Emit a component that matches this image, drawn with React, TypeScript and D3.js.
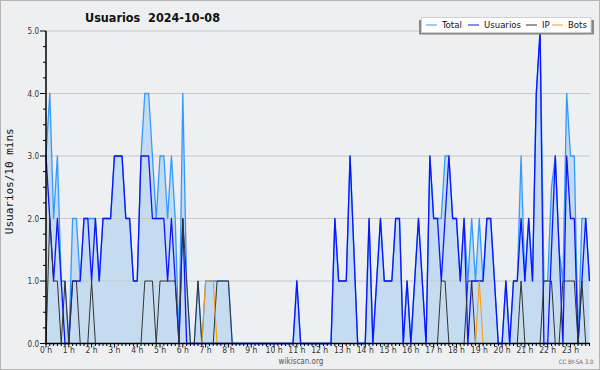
import React from "react";
import * as d3 from "d3";

const W = 600;
const H = 370;
const plot = { left: 46, right: 589.5, top: 31, bottom: 343.5 };
const FONT = "'DejaVu Sans Condensed', 'DejaVu Sans', sans-serif";

// one value every 10 minutes, 00:00 -> 23:50
const usuarios = [
  3, 2, 1, 2, 1, 0, 0, 1, 1, 1, 2, 2, 1, 2, 1, 2, 2, 2, 3, 3, 3, 2, 2, 1,
  1, 3, 3, 3, 2, 2, 2, 2, 1, 2, 1, 0, 2, 0, 0, 0, 0, 0, 0, 0, 0, 0, 0, 0,
  0, 0, 0, 0, 0, 0, 0, 0, 0, 0, 0, 0, 0, 0, 0, 0, 0, 0, 1, 0, 0, 0, 0, 0,
  0, 0, 0, 0, 2, 1, 1, 1, 3, 1.5, 0, 0, 0, 2, 0, 1, 2, 1, 1, 1, 2, 2, 0, 1,
  0, 1, 2, 1, 0, 3, 2, 2, 1, 2, 3, 2, 2, 1, 2, 0, 1, 1, 1, 1, 2, 2, 1, 0,
  0, 1, 0, 1, 1, 2, 1, 2, 1, 4, 5, 0, 0, 1.5, 3, 1.5, 0, 3, 2, 2, 0, 1, 2, 1,
];
const ip = [
  0, 2, 1, 1, 0, 1, 0, 1, 1, 0, 0, 0, 1, 0, 0, 0, 0, 0, 0, 0, 0, 0, 0, 0,
  0, 0, 1, 1, 1, 0, 1, 1, 1, 1, 1, 0, 2, 1, 0, 0, 1, 0, 0, 0, 0, 1, 1, 1,
  1, 0, 0, 0, 0, 0, 0, 0, 0, 0, 0, 0, 0, 0, 0, 0, 0, 0, 0, 0, 0, 0, 0, 0,
  0, 0, 0, 0, 0, 0, 0, 0, 0, 0, 0, 0, 0, 0, 0, 0, 0, 0, 0, 0, 0, 0, 0, 0,
  0, 0, 0, 0, 0, 0, 0, 0, 1, 1, 0, 0, 0, 0, 0, 1, 1, 0, 0, 0, 0, 0, 0, 0,
  0, 0, 0, 0, 0, 1, 0, 0, 0, 0, 0, 1, 1, 1, 0, 0, 1, 1, 1, 1, 0, 1, 0, 0,
];
const bots = [
  0, 0, 0, 0, 0, 0, 0, 0, 0, 0, 0, 0, 0, 0, 0, 0, 0, 0, 0, 0, 0, 0, 0, 0,
  0, 0, 0, 0, 0, 0, 0, 0, 0, 0, 0, 0, 0, 0, 0, 0, 0, 0, 1, 1, 1, 0, 0, 0,
  0, 0, 0, 0, 0, 0, 0, 0, 0, 0, 0, 0, 0, 0, 0, 0, 0, 0, 0, 0, 0, 0, 0, 0,
  0, 0, 0, 0, 0, 0, 0, 0, 0, 0, 0, 0, 0, 0, 0, 0, 0, 0, 0, 0, 0, 0, 0, 0,
  0, 0, 0, 0, 0, 0, 0, 0, 0, 0, 0, 0, 0, 0, 0, 0, 0, 0, 1, 0, 0, 0, 0, 0,
  0, 0, 0, 0, 0, 0, 0, 0, 0, 0, 0, 0, 0, 0, 0, 0, 0, 0, 0, 0, 0, 0, 0, 0,
];
const total = [
  3, 4, 2, 3, 1, 1, 0, 2, 2, 1, 2, 2, 2, 2, 1, 2, 2, 2, 3, 3, 3, 2, 2, 1,
  1, 3, 4, 4, 3, 2, 3, 3, 2, 3, 2, 0, 4, 1, 0, 0, 1, 0, 1, 1, 1, 1, 1, 1,
  1, 0, 0, 0, 0, 0, 0, 0, 0, 0, 0, 0, 0, 0, 0, 0, 0, 0, 1, 0, 0, 0, 0, 0,
  0, 0, 0, 0, 2, 1, 1, 1, 3, 1.5, 0, 0, 0, 2, 0, 1, 2, 1, 1, 1, 2, 2, 0, 1,
  0, 1, 2, 1, 0, 3, 2, 2, 2, 3, 3, 2, 2, 1, 2, 1, 2, 1, 2, 1, 2, 2, 1, 0,
  0, 1, 0, 1, 1, 3, 1, 2, 1, 4, 5, 1, 1, 2.5, 3, 1.5, 1, 4, 3, 3, 0, 2, 2, 1,
];

const hourLabels = d3.range(24).map((h) => `${h} h`);
const yTickValues = [0, 1, 2, 3, 4, 5];
const legendNames = ["Total", "Usuarios", "IP", "Bots"];
const legendColors = ["#3399ff", "#0a14ff", "#333333", "#ff9900"];

const x = d3.scaleLinear().domain([0, total.length - 1]).range([plot.left, plot.right]);
const y = d3.scaleLinear().domain([0, 5]).range([plot.bottom, plot.top]);

const lineGen = d3
  .line<number>()
  .x((_d, i) => x(i))
  .y((d) => y(d));

const areaGen = d3
  .area<number>()
  .x((_d, i) => x(i))
  .y0(y(0))
  .y1((d) => y(d));

const series = [
  { name: "Total", values: total, color: legendColors[0], width: 1.3 },
  { name: "Usuarios", values: usuarios, color: legendColors[1], width: 1.3 },
  { name: "IP", values: ip, color: legendColors[2], width: 1 },
  { name: "Bots", values: bots, color: legendColors[3], width: 1 },
];

// legend item offsets
const legendX = [426, 468, 526, 552];

export default function App() {
  const minorY = d3.range(0, 5.001, 0.25).filter((v) => v % 1 !== 0);
  return (
    <svg
      width={W}
      height={H}
      style={{ position: "absolute", left: 0, top: 0, fontFamily: FONT }}
    >
      <rect x={0.5} y={0.5} width={W - 1} height={H - 1} fill="#eeeff1" stroke="#b4b4b4" />

      <text x={85} y={21.5} fontSize={12.5} fontWeight="bold" fill="#111" style={{ whiteSpace: "pre" }}>
        {"Usuarios  2024-10-08"}
      </text>

      {/* area for Total */}
      <path d={areaGen(total) || ""} fill="#c5dcf0" />

      {/* grid */}
      {yTickValues.slice(1).map((v) => (
        <line key={v} x1={plot.left} x2={590} y1={y(v)} y2={y(v)} stroke="#c8c8c8" strokeWidth={1} />
      ))}

      {series.map((s) => (
        <path
          key={s.name}
          d={lineGen(s.values) || ""}
          fill="none"
          stroke={s.color}
          strokeWidth={s.width}
          strokeLinejoin="round"
        />
      ))}

      {/* y axis */}
      <line x1={plot.left} x2={plot.left} y1={plot.top} y2={plot.bottom + 1} stroke="#000" strokeWidth={1.5} />
      {yTickValues.map((v) => (
        <g key={v}>
          <line x1={40} x2={plot.left} y1={y(v)} y2={y(v)} stroke="#000" strokeWidth={1} />
          <text x={39} y={y(v) + 3} fontSize={8} textAnchor="end" fill="#333">
            {v.toFixed(1)}
          </text>
        </g>
      ))}
      {minorY.map((v) => (
        <line key={v} x1={43} x2={plot.left} y1={y(v)} y2={y(v)} stroke="#000" strokeWidth={1} />
      ))}

      {/* x axis */}
      <line x1={plot.left} x2={590} y1={plot.bottom} y2={plot.bottom} stroke="#000" strokeWidth={1.5} />
      {total.map((_d, i) => (
        <line
          key={i}
          x1={x(i)}
          x2={x(i)}
          y1={plot.bottom}
          y2={plot.bottom + (i % 6 === 0 ? 4 : 2.5)}
          stroke="#000"
          strokeWidth={1}
        />
      ))}
      {hourLabels.map((lab, h) => (
        <text key={lab} x={x(h * 6)} y={352.5} fontSize={8.5} textAnchor="middle" fill="#333">
          {lab}
        </text>
      ))}

      <text
        transform={`translate(12.5,${(plot.top + plot.bottom) / 2 - 6}) rotate(-90)`}
        fontSize={11}
        fontFamily="'DejaVu Sans Mono', monospace"
        textAnchor="middle"
        fill="#111"
      >
        Usuarios/10 mins
      </text>

      <text x={301} y={364} fontSize={8} textAnchor="middle" fill="#555">
        wikiscan.org
      </text>
      <text x={576} y={364} fontSize={6} textAnchor="middle" fill="#666">
        CC BY-SA 3.0
      </text>

      {/* legend */}
      <rect x={419} y={20} width={175} height={14.5} fill="#888" />
      <rect x={421.5} y={17.5} width={169.5} height={15} fill="#fff" stroke="#cfcfcf" />
      {legendNames.map((name, i) => (
        <g key={name}>
          <line x1={legendX[i]} x2={legendX[i] + 11} y1={25} y2={25} stroke={legendColors[i]} strokeWidth={1} />
          <text x={legendX[i] + 16} y={28.3} fontSize={9.5} fill="#111">
            {name}
          </text>
        </g>
      ))}
    </svg>
  );
}
